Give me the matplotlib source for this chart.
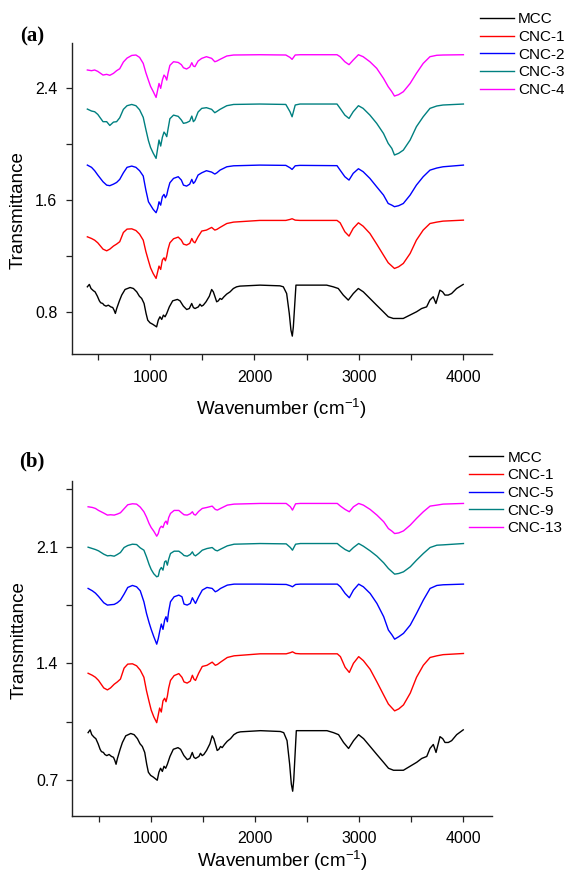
import matplotlib
matplotlib.use('Agg')
import matplotlib.pyplot as plt
from matplotlib.ticker import FixedLocator, NullFormatter

plt.rcParams['font.family'] = ['Liberation Sans', 'DejaVu Sans']
plt.rcParams['mathtext.fontset'] = 'custom'
plt.rcParams['mathtext.rm'] = 'Liberation Sans'

# shared wavenumber grid for the CNC spectra (cm-1)
wn = [400, 440, 470, 500, 550, 585, 615, 650, 680, 710,
      745, 780, 825, 865, 900, 935, 960, 985, 1005, 1030,
      1058, 1073, 1086, 1102, 1118, 1134, 1147, 1160, 1172, 1190,
      1225, 1270, 1300, 1320, 1350, 1380, 1400, 1415, 1430, 1460,
      1495, 1540, 1590, 1620, 1640, 1670, 1735, 1800,
      2050, 2300, 2340, 2360, 2390, 2435, 2790, 2820, 2865, 2905,
      2945, 2995, 3040, 3105, 3170, 3235, 3280, 3315, 3340, 3380,
      3425, 3490, 3550, 3615, 3680, 3745, 3805, 4000]

cnc1 = [1.340, 1.328, 1.316, 1.297, 1.252, 1.240, 1.252, 1.274, 1.288, 1.305,
        1.371, 1.395, 1.397, 1.385, 1.359, 1.316, 1.235, 1.169, 1.119, 1.078,
        1.043, 1.090, 1.131, 1.107, 1.174, 1.190, 1.169, 1.202, 1.250, 1.297,
        1.326, 1.338, 1.316, 1.288, 1.281, 1.293, 1.328, 1.305, 1.297, 1.340,
        1.381, 1.388, 1.407, 1.388, 1.393, 1.407, 1.435, 1.445,
        1.457, 1.457, 1.464, 1.469, 1.459, 1.457, 1.457, 1.440, 1.376, 1.345,
        1.400, 1.440, 1.416, 1.364, 1.288, 1.209, 1.155, 1.131, 1.114, 1.126,
        1.150, 1.221, 1.316, 1.388, 1.435, 1.445, 1.452, 1.459]

cnc2 = [1.852, 1.836, 1.812, 1.781, 1.733, 1.709, 1.705, 1.716, 1.728, 1.750,
        1.797, 1.836, 1.845, 1.836, 1.812, 1.774, 1.674, 1.590, 1.566, 1.536,
        1.512, 1.543, 1.590, 1.566, 1.626, 1.643, 1.619, 1.638, 1.678, 1.726,
        1.757, 1.769, 1.745, 1.709, 1.702, 1.716, 1.750, 1.721, 1.733, 1.781,
        1.797, 1.812, 1.802, 1.788, 1.797, 1.816, 1.840, 1.847,
        1.852, 1.850, 1.833, 1.821, 1.847, 1.850, 1.848, 1.816, 1.769, 1.745,
        1.793, 1.826, 1.805, 1.757, 1.697, 1.638, 1.578, 1.566, 1.555, 1.562,
        1.578, 1.638, 1.709, 1.769, 1.816, 1.831, 1.840, 1.852]

cnc3 = [2.252, 2.238, 2.233, 2.214, 2.162, 2.162, 2.135, 2.159, 2.162, 2.190,
        2.250, 2.276, 2.285, 2.276, 2.247, 2.193, 2.107, 2.026, 1.978, 1.938,
        1.900, 1.971, 2.031, 1.988, 2.050, 2.088, 2.074, 2.055, 2.107, 2.183,
        2.209, 2.200, 2.174, 2.150, 2.155, 2.166, 2.202, 2.162, 2.174, 2.231,
        2.257, 2.262, 2.250, 2.226, 2.235, 2.250, 2.276, 2.285,
        2.288, 2.285, 2.233, 2.197, 2.281, 2.288, 2.288, 2.257, 2.209, 2.185,
        2.233, 2.276, 2.257, 2.209, 2.150, 2.078, 2.007, 1.971, 1.924, 1.936,
        1.959, 2.031, 2.126, 2.197, 2.257, 2.274, 2.281, 2.288]

cnc4 = [2.531, 2.526, 2.531, 2.521, 2.495, 2.500, 2.493, 2.507, 2.526, 2.540,
        2.588, 2.616, 2.635, 2.638, 2.621, 2.578, 2.512, 2.457, 2.414, 2.378,
        2.335, 2.388, 2.435, 2.400, 2.459, 2.495, 2.483, 2.459, 2.507, 2.564,
        2.590, 2.585, 2.569, 2.547, 2.538, 2.552, 2.583, 2.559, 2.555, 2.595,
        2.614, 2.626, 2.614, 2.590, 2.595, 2.607, 2.631, 2.638,
        2.640, 2.638, 2.621, 2.607, 2.638, 2.640, 2.640, 2.626, 2.590, 2.569,
        2.602, 2.640, 2.626, 2.590, 2.543, 2.471, 2.412, 2.376, 2.345, 2.355,
        2.376, 2.435, 2.507, 2.578, 2.626, 2.636, 2.638, 2.640]

cnc5 = [1.850, 1.836, 1.822, 1.802, 1.764, 1.750, 1.752, 1.754, 1.764, 1.780,
        1.816, 1.856, 1.868, 1.860, 1.836, 1.770, 1.700, 1.644, 1.604, 1.560,
        1.515, 1.549, 1.590, 1.636, 1.604, 1.660, 1.680, 1.650, 1.710, 1.770,
        1.800, 1.810, 1.800, 1.756, 1.750, 1.760, 1.794, 1.776, 1.760, 1.800,
        1.840, 1.856, 1.850, 1.830, 1.836, 1.850, 1.870, 1.876,
        1.876, 1.874, 1.866, 1.860, 1.874, 1.876, 1.876, 1.860, 1.820, 1.794,
        1.840, 1.876, 1.860, 1.820, 1.760, 1.680, 1.600, 1.570, 1.545, 1.560,
        1.580, 1.630, 1.700, 1.780, 1.850, 1.868, 1.872, 1.876]

cnc9 = [2.098, 2.090, 2.084, 2.076, 2.056, 2.046, 2.048, 2.044, 2.054, 2.066,
        2.096, 2.108, 2.116, 2.114, 2.094, 2.080, 2.040, 1.994, 1.964, 1.938,
        1.920, 1.924, 1.960, 1.976, 1.960, 2.010, 2.016, 1.990, 2.024, 2.060,
        2.074, 2.074, 2.060, 2.048, 2.044, 2.054, 2.070, 2.052, 2.046, 2.060,
        2.080, 2.090, 2.096, 2.080, 2.076, 2.086, 2.106, 2.116,
        2.120, 2.118, 2.096, 2.080, 2.116, 2.120, 2.120, 2.104, 2.084, 2.072,
        2.096, 2.120, 2.104, 2.076, 2.044, 2.004, 1.970, 1.950, 1.936, 1.940,
        1.950, 1.980, 2.020, 2.060, 2.096, 2.110, 2.112, 2.120]

cnc13 = [2.341, 2.337, 2.331, 2.319, 2.303, 2.291, 2.293, 2.291, 2.297, 2.305,
         2.329, 2.353, 2.359, 2.357, 2.339, 2.311, 2.279, 2.240, 2.216, 2.194,
         2.164, 2.180, 2.210, 2.224, 2.216, 2.245, 2.255, 2.236, 2.275, 2.301,
         2.319, 2.319, 2.303, 2.293, 2.291, 2.299, 2.311, 2.295, 2.291, 2.313,
         2.331, 2.337, 2.345, 2.325, 2.321, 2.331, 2.351, 2.357,
         2.361, 2.361, 2.341, 2.321, 2.359, 2.361, 2.361, 2.345, 2.325, 2.311,
         2.341, 2.361, 2.351, 2.325, 2.291, 2.251, 2.210, 2.194, 2.180, 2.184,
         2.196, 2.231, 2.271, 2.311, 2.345, 2.351, 2.357, 2.361]

# MCC has its own set of read points
wn_mcc = [400, 419, 435, 458, 474, 496, 515, 528, 547, 560,
          579, 601, 624, 643, 656, 668, 681, 707, 729, 761,
          809, 841, 873, 898, 920, 943, 962, 978, 1000, 1025,
          1063, 1079, 1095, 1112, 1128, 1144, 1160, 1185, 1217, 1262,
          1287, 1319, 1351, 1376, 1399, 1415, 1431, 1463, 1478, 1494,
          1510, 1536, 1568, 1590, 1606, 1622, 1638, 1654, 1670, 1686,
          1708, 1734, 1766, 1798, 1829, 1861, 2053, 2244, 2276, 2308,
          2333, 2349, 2362, 2372, 2388, 2397, 2435, 2691, 2754, 2802,
          2850, 2898, 2946, 2994, 3042, 3105, 3169, 3233, 3281, 3329,
          3424, 3488, 3552, 3600, 3648, 3679, 3711, 3737, 3775, 3801,
          3823, 3855, 3887, 3935, 3998]
mcc = [0.983, 1.000, 0.971, 0.955, 0.947, 0.916, 0.883, 0.869, 0.864, 0.852,
       0.845, 0.852, 0.840, 0.835, 0.816, 0.793, 0.828, 0.883, 0.924, 0.964,
       0.978, 0.971, 0.947, 0.916, 0.900, 0.864, 0.793, 0.745, 0.726, 0.716,
       0.697, 0.745, 0.769, 0.750, 0.781, 0.769, 0.793, 0.840, 0.883, 0.893,
       0.883, 0.845, 0.821, 0.828, 0.864, 0.835, 0.828, 0.840, 0.859, 0.845,
       0.852, 0.876, 0.916, 0.964, 0.947, 0.912, 0.876, 0.883, 0.900, 0.893,
       0.912, 0.931, 0.947, 0.971, 0.983, 0.988, 0.995, 0.990, 0.983, 0.935,
       0.793, 0.674, 0.631, 0.697, 0.888, 0.995, 0.995, 0.995, 0.983, 0.971,
       0.924, 0.888, 0.935, 0.971, 0.947, 0.900, 0.852, 0.805, 0.769, 0.757,
       0.757, 0.781, 0.805, 0.828, 0.840, 0.888, 0.912, 0.864, 0.959, 0.947,
       0.924, 0.924, 0.935, 0.971, 1.000]

labels_a = ['MCC', 'CNC-1', 'CNC-2', 'CNC-3', 'CNC-4']
labels_b = ['MCC', 'CNC-1', 'CNC-5', 'CNC-9', 'CNC-13']
colors = ['#000000', '#ff0000', '#0000ff', '#008080', '#ff00ff']

fig = plt.figure(figsize=(5.68, 8.75), dpi=100)
ax_a = fig.add_axes([0.1262, 0.5949, 0.7393, 0.356])
ax_b = fig.add_axes([0.1276, 0.068, 0.7379, 0.3823])


def style(ax, ylim, major, minor, xlabel_y, ylabel_y):
    ax.set_xlim(250, 4270)
    ax.set_ylim(*ylim)
    for s in ['top', 'right']:
        ax.spines[s].set_visible(False)
    for s in ['left', 'bottom']:
        ax.spines[s].set_linewidth(1.0)
        ax.spines[s].set_color('#222222')
    ax.xaxis.set_major_locator(FixedLocator([1000, 2000, 3000, 4000]))
    ax.xaxis.set_minor_locator(FixedLocator([500, 1500, 2500, 3500]))
    ax.yaxis.set_major_locator(FixedLocator(major))
    ax.yaxis.set_minor_locator(FixedLocator(minor))
    ax.yaxis.set_minor_formatter(NullFormatter())
    ax.tick_params(which='both', direction='out', length=4.3, width=0.9,
                   color='#222222', labelsize=11.5)
    ax.tick_params(axis='x', pad=7)
    ax.tick_params(axis='y', pad=6)
    ax.set_ylabel('Transmittance', fontsize=13.5, va='center')
    ax.yaxis.set_label_coords(-0.128, ylabel_y)
    ax.set_xlabel('Wavenumber (cm$^{\\mathregular{-1}}$)', fontsize=13.5,
                  va='center')
    ax.xaxis.set_label_coords(0.5, xlabel_y)


series_a = [(wn_mcc, mcc), (wn, cnc1), (wn, cnc2), (wn, cnc3), (wn, cnc4)]
series_b = [(wn_mcc, mcc), (wn, cnc1), (wn, cnc5), (wn, cnc9), (wn, cnc13)]

for (x, y), lab, c in zip(series_a, labels_a, colors):
    ax_a.plot(x, y, color=c, lw=1.0, label=lab)
for (x, y), lab, c in zip(series_b, labels_b, colors):
    ax_b.plot(x, y, color=c, lw=1.0, label=lab)

style(ax_a, (0.5, 2.724), [0.8, 1.6, 2.4], [1.2, 2.0], -0.175, 0.465)
style(ax_b, (0.485, 2.496), [0.7, 1.4, 2.1], [1.05, 1.75, 2.45], -0.135, 0.525)

leg_kw = dict(bbox_transform=fig.transFigure, frameon=False, fontsize=11,
              handlelength=2.2, handletextpad=0.3, labelspacing=0.24,
              borderpad=0, borderaxespad=0, loc='upper left')
ax_a.legend(bbox_to_anchor=(0.845, 0.986), **leg_kw)
ax_b.legend(bbox_to_anchor=(0.826, 0.485), **leg_kw)

fig.text(20 / 568, 1 - 36 / 875, '(a)', family='Liberation Serif',
         weight='bold', fontsize=15, va='center')
fig.text(19 / 568, 1 - 461 / 875, '(b)', family='Liberation Serif',
         weight='bold', fontsize=15, va='center')

fig.savefig('out.png', dpi=100)
